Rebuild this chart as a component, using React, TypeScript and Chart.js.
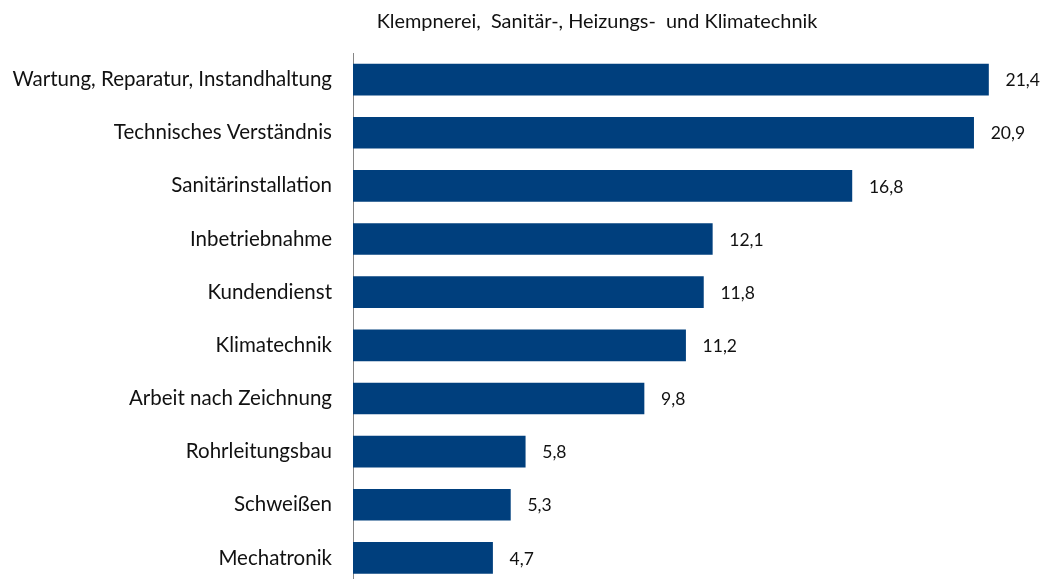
import React, { useEffect, useRef } from "react";
import { Chart, registerables } from "chart.js";

Chart.register(...registerables);

const chartTitle = "Klempnerei,  Sanitär-, Heizungs-  und Klimatechnik";
const categories = [
  "Wartung, Reparatur, Instandhaltung",
  "Technisches Verständnis",
  "Sanitärinstallation",
  "Inbetriebnahme",
  "Kundendienst",
  "Klimatechnik",
  "Arbeit nach Zeichnung",
  "Rohrleitungsbau",
  "Schweißen",
  "Mechatronik",
];
const values = [21.4, 20.9, 16.8, 12.1, 11.8, 11.2, 9.8, 5.8, 5.3, 4.7];

const FONT = "Lato";
const TEXT = "#111111";

const labelPlugin = {
  id: "valueLabels",
  afterDatasetsDraw(chart: any) {
    const ctx = chart.ctx;
    ctx.save();
    ctx.fillStyle = TEXT;
    ctx.font = `19.9px ${FONT}`;
    ctx.textAlign = "center";
    ctx.textBaseline = "middle";
    ctx.fillText(chartTitle, 597, 22);
    ctx.font = `17.5px ${FONT}`;
    ctx.textAlign = "left";
    const meta = chart.getDatasetMeta(0);
    meta.data.forEach((bar: any, i: number) => {
      const txt = values[i].toFixed(1).replace(".", ",");
      ctx.fillText(txt, bar.x + 17, bar.y + 1);
    });
    ctx.restore();
  },
};

export default function App() {
  const ref = useRef<HTMLCanvasElement>(null);
  useEffect(() => {
    if (!ref.current) return;
    const chart = new Chart(ref.current, {
      type: "bar",
      data: {
        labels: categories,
        datasets: [
          {
            data: values,
            backgroundColor: "#003f7d",
            borderWidth: 0,
            barThickness: 31,
          },
        ],
      },
      options: {
        indexAxis: "y",
        responsive: true,
        maintainAspectRatio: false,
        animation: false,
        layout: { padding: { top: 53, right: 7, bottom: 5.5, left: 0 } },
        plugins: {
          legend: { display: false },
          title: { display: false },
          tooltip: { enabled: false },
        },
        scales: {
          x: { display: false, min: 0, max: 23 },
          y: {
            afterFit(scale: any) {
              scale.width = 353;
              scale.paddingTop = 0;
              scale.paddingBottom = 0;
            },
            grid: { display: false, drawTicks: false },
            border: { display: true, color: "#868686", width: 1 },
            ticks: {
              padding: 21,
              color: TEXT,
              font: { family: FONT, size: 20.5 },
            },
          },
        },
      },
      plugins: [labelPlugin],
    });
    return () => chart.destroy();
  }, []);
  return (
    <div
      style={{
        position: "fixed",
        left: 0,
        top: 0,
        width: 1043,
        height: 579,
        overflow: "hidden",
        background: "#fff",
      }}
    >
      <div style={{ position: "relative", width: 1043, height: 590 }}>
        <canvas ref={ref} />
      </div>
    </div>
  );
}
